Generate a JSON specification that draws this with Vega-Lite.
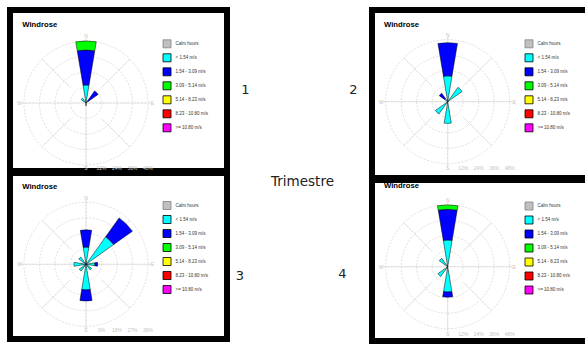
{
  "$schema": "https://vega.github.io/schema/vega-lite/v6.json",
  "padding": {"left": 7, "top": 7, "right": -8, "bottom": 1},
  "background": "white",
  "spacing": 0,
  "config": {
    "view": {"stroke": "#000", "strokeWidth": 6},
    "font": "Liberation Sans",
    "legend": {
      "orient": "none", "legendX": 152.5, "symbolType": "square", "symbolSize": 64,
      "symbolStrokeWidth": 0.8, "symbolStrokeColor": "#000", "labelFontSize": 4.5,
      "labelColor": "#333", "labelFont": "Liberation Sans", "rowPadding": 1, "padding": 0,
      "labelOffset": 4, "labelLimit": 200, "symbolOpacity": 1
    }
  },
  "datasets": {
    "winds": [
      {"q": 1, "dir": 0, "k": 2, "cls": "< 1.54 m/s", "v": 14},
      {"q": 1, "dir": 0, "k": 3, "cls": "1.54 - 3.09 m/s", "v": 27},
      {"q": 1, "dir": 0, "k": 4, "cls": "3.09 - 5.14 m/s", "v": 7},
      {"q": 1, "dir": 45, "k": 2, "cls": "< 1.54 m/s", "v": 2},
      {"q": 1, "dir": 45, "k": 3, "cls": "1.54 - 3.09 m/s", "v": 9.5},
      {"q": 1, "dir": 315, "k": 2, "cls": "< 1.54 m/s", "v": 4.5},
      {"q": 1, "dir": 180, "k": 2, "cls": "< 1.54 m/s", "v": 2},
      {"q": 2, "dir": 0, "k": 2, "cls": "< 1.54 m/s", "v": 20},
      {"q": 2, "dir": 0, "k": 3, "cls": "1.54 - 3.09 m/s", "v": 25.7},
      {"q": 2, "dir": 45, "k": 2, "cls": "< 1.54 m/s", "v": 13.7},
      {"q": 2, "dir": 315, "k": 2, "cls": "< 1.54 m/s", "v": 3},
      {"q": 2, "dir": 315, "k": 3, "cls": "1.54 - 3.09 m/s", "v": 5},
      {"q": 2, "dir": 225, "k": 2, "cls": "< 1.54 m/s", "v": 11.6},
      {"q": 2, "dir": 180, "k": 2, "cls": "< 1.54 m/s", "v": 16.8},
      {"q": 3, "dir": 0, "k": 2, "cls": "< 1.54 m/s", "v": 10},
      {"q": 3, "dir": 0, "k": 3, "cls": "1.54 - 3.09 m/s", "v": 10},
      {"q": 3, "dir": 45, "k": 2, "cls": "< 1.54 m/s", "v": 19.7},
      {"q": 3, "dir": 45, "k": 3, "cls": "1.54 - 3.09 m/s", "v": 13.4},
      {"q": 3, "dir": 180, "k": 2, "cls": "< 1.54 m/s", "v": 14.9},
      {"q": 3, "dir": 180, "k": 3, "cls": "1.54 - 3.09 m/s", "v": 6.4},
      {"q": 3, "dir": 90, "k": 2, "cls": "< 1.54 m/s", "v": 5.2},
      {"q": 3, "dir": 90, "k": 3, "cls": "1.54 - 3.09 m/s", "v": 1.6},
      {"q": 3, "dir": 270, "k": 2, "cls": "< 1.54 m/s", "v": 7},
      {"q": 3, "dir": 315, "k": 2, "cls": "< 1.54 m/s", "v": 5.2},
      {"q": 3, "dir": 225, "k": 2, "cls": "< 1.54 m/s", "v": 4.8},
      {"q": 3, "dir": 135, "k": 2, "cls": "< 1.54 m/s", "v": 4},
      {"q": 4, "dir": 0, "k": 2, "cls": "< 1.54 m/s", "v": 20.7},
      {"q": 4, "dir": 0, "k": 3, "cls": "1.54 - 3.09 m/s", "v": 23.7},
      {"q": 4, "dir": 0, "k": 4, "cls": "3.09 - 5.14 m/s", "v": 3.4},
      {"q": 4, "dir": 180, "k": 2, "cls": "< 1.54 m/s", "v": 19.6},
      {"q": 4, "dir": 180, "k": 3, "cls": "1.54 - 3.09 m/s", "v": 4},
      {"q": 4, "dir": 315, "k": 2, "cls": "< 1.54 m/s", "v": 8},
      {"q": 4, "dir": 225, "k": 2, "cls": "< 1.54 m/s", "v": 9.3}
    ],
    "rings48": [{"r": 12}, {"r": 24}, {"r": 36}, {"r": 48}],
    "rings36": [{"r": 9}, {"r": 18}, {"r": 27}, {"r": 36}],
    "axes": [{"a": 0}, {"a": 90}, {"a": 180}, {"a": 270}],
    "diag": [{"a": 45}, {"a": 135}, {"a": 225}, {"a": 315}],
    "compass": [{"lab": "N", "a": 0}, {"lab": "E", "a": 90}, {"lab": "W", "a": 270}],
    "rl48": [{"r": 0, "lab": "S"}, {"r": 12, "lab": "12%"}, {"r": 24, "lab": "24%"}, {"r": 36, "lab": "36%"}, {"r": 48, "lab": "48%"}],
    "rl36": [{"r": 0, "lab": "S"}, {"r": 9, "lab": "9%"}, {"r": 18, "lab": "18%"}, {"r": 27, "lab": "27%"}, {"r": 36, "lab": "36%"}],
    "one": [{}]
  },
  "resolve": {"scale": {"color": "independent", "radius": "independent", "theta": "independent"}, "legend": {"color": "independent"}},
  "hconcat": [
    {
      "vconcat": [
        {
          "width": 217, "height": 161,
          "layer": [
            {
              "data": {"name": "rings48"},
              "mark": {"type": "arc", "filled": false, "stroke": "#d6d6d6", "strokeWidth": 0.8, "strokeDash": [2, 1.5]},
              "encoding": {
                "x": {"datum": 0, "type": "quantitative", "scale": {"domain": [-58.839, 109.161], "nice": false, "zero": false}, "axis": null},
                "y": {"datum": 0, "type": "quantitative", "scale": {"domain": [-52.645, 72.0], "nice": false, "zero": false}, "axis": null},
                "theta": {"datum": 0, "type": "quantitative", "scale": {"domain": [0, 360]}},
                "theta2": {"datum": 360},
                "radius": {"field": "r", "type": "quantitative", "stack": null, "scale": {"type": "linear", "domain": [0, 48], "range": [0, 62], "zero": true}}
              }
            },
            {
              "data": {"name": "axes"},
              "mark": {"type": "arc", "filled": false, "stroke": "#d6d6d6", "strokeWidth": 0.8, "strokeDash": [2, 1.5]},
              "encoding": {
                "x": {"datum": 0, "type": "quantitative"}, "y": {"datum": 0, "type": "quantitative"},
                "theta": {"field": "a", "type": "quantitative", "stack": null}, "theta2": {"field": "a"},
                "radius": {"datum": 50, "type": "quantitative"}, "radius2": {"datum": 0}
              }
            },
            {
              "data": {"name": "diag"},
              "mark": {"type": "arc", "filled": false, "stroke": "#d6d6d6", "strokeWidth": 0.8, "strokeDash": [2, 1.5]},
              "encoding": {
                "x": {"datum": 0, "type": "quantitative"}, "y": {"datum": 0, "type": "quantitative"},
                "theta": {"field": "a", "type": "quantitative", "stack": null}, "theta2": {"field": "a"},
                "radius": {"datum": 48, "type": "quantitative"}, "radius2": {"datum": 17}
              }
            },
            {
              "data": {"name": "winds"},
              "transform": [
                {"filter": {"field": "q", "equal": 1}},
                {"stack": "v", "groupby": ["dir"], "sort": [{"field": "k", "order": "ascending"}], "as": ["r0", "r1"]}
              ],
              "mark": {"type": "arc", "thetaOffset": -0.166, "theta2Offset": 0.166, "stroke": "#000", "strokeWidth": 0.5},
              "encoding": {
                "x": {"datum": 0, "type": "quantitative"}, "y": {"datum": 0, "type": "quantitative"},
                "theta": {"field": "dir", "type": "quantitative", "stack": null}, "theta2": {"field": "dir"},
                "radius": {"field": "r1", "type": "quantitative", "stack": null}, "radius2": {"field": "r0"},
                "color": {"field": "cls", "type": "nominal",
                  "scale": {"domain": ["Calm hours", "< 1.54 m/s", "1.54 - 3.09 m/s", "3.09 - 5.14 m/s", "5.14 - 8.23 m/s", "8.23 - 10.80 m/s", ">= 10.80 m/s"], "range": ["#c0c0c0", "#00ffff", "#0000ff", "#00ff00", "#ffff00", "#ff0000", "#ff00ff"]},
                  "legend": {"title": null, "legendY": 29.3, "rowPadding": 1, "encode": {"symbols": {"update": {"stroke": {"signal": "datum.value === 'Calm hours' ? '#808080' : '#000000'"}, "strokeWidth": {"value": 0.8}}}}}}
              }
            },
            {
              "data": {"name": "compass"},
              "mark": {"type": "text", "fontSize": 5, "fill": "#c4c4c4", "font": "Liberation Sans", "baseline": "middle", "align": "center"},
              "encoding": {
                "x": {"datum": 0, "type": "quantitative"}, "y": {"datum": 0, "type": "quantitative"},
                "theta": {"field": "a", "type": "quantitative", "stack": null},
                "radius": {"datum": 51.5, "type": "quantitative"},
                "text": {"field": "lab"}
              }
            },
            {
              "data": {"name": "rl48"},
              "mark": {"type": "text", "fontSize": 5, "fill": "#c4c4c4", "font": "Liberation Sans", "baseline": "middle", "align": "center"},
              "encoding": {
                "x": {"field": "r", "type": "quantitative"}, "y": {"datum": -50.3, "type": "quantitative"},
                "text": {"field": "lab"}
              }
            },
            {
              "data": {"name": "one"},
              "mark": {"type": "text", "text": "Windrose", "fontSize": 7.7, "fontWeight": "bold", "font": "Liberation Sans", "fill": "#000", "align": "left", "baseline": "alphabetic"},
              "encoding": {"x": {"datum": -49.32, "type": "quantitative"}, "y": {"datum": 58.61, "type": "quantitative"}}
            }
          ]
        },
        {
          "width": 217, "height": 166,
          "layer": [
            {
              "data": {"name": "rings36"},
              "mark": {"type": "arc", "filled": false, "stroke": "#d6d6d6", "strokeWidth": 0.8, "strokeDash": [2, 1.5]},
              "encoding": {
                "x": {"datum": 0, "type": "quantitative", "scale": {"domain": [-44.129, 81.871], "nice": false, "zero": false}, "axis": null},
                "y": {"datum": 0, "type": "quantitative", "scale": {"domain": [-43.374, 53.013], "nice": false, "zero": false}, "axis": null},
                "theta": {"datum": 0, "type": "quantitative", "scale": {"domain": [0, 360]}},
                "theta2": {"datum": 360},
                "radius": {"field": "r", "type": "quantitative", "stack": null, "scale": {"type": "linear", "domain": [0, 36], "range": [0, 62], "zero": true}}
              }
            },
            {
              "data": {"name": "axes"},
              "mark": {"type": "arc", "filled": false, "stroke": "#d6d6d6", "strokeWidth": 0.8, "strokeDash": [2, 1.5]},
              "encoding": {
                "x": {"datum": 0, "type": "quantitative"}, "y": {"datum": 0, "type": "quantitative"},
                "theta": {"field": "a", "type": "quantitative", "stack": null}, "theta2": {"field": "a"},
                "radius": {"datum": 37.5, "type": "quantitative"}, "radius2": {"datum": 0}
              }
            },
            {
              "data": {"name": "diag"},
              "mark": {"type": "arc", "filled": false, "stroke": "#d6d6d6", "strokeWidth": 0.8, "strokeDash": [2, 1.5]},
              "encoding": {
                "x": {"datum": 0, "type": "quantitative"}, "y": {"datum": 0, "type": "quantitative"},
                "theta": {"field": "a", "type": "quantitative", "stack": null}, "theta2": {"field": "a"},
                "radius": {"datum": 36, "type": "quantitative"}, "radius2": {"datum": 12.75}
              }
            },
            {
              "data": {"name": "winds"},
              "transform": [
                {"filter": {"field": "q", "equal": 3}},
                {"stack": "v", "groupby": ["dir"], "sort": [{"field": "k", "order": "ascending"}], "as": ["r0", "r1"]}
              ],
              "mark": {"type": "arc", "thetaOffset": -0.166, "theta2Offset": 0.166, "stroke": "#000", "strokeWidth": 0.5},
              "encoding": {
                "x": {"datum": 0, "type": "quantitative"}, "y": {"datum": 0, "type": "quantitative"},
                "theta": {"field": "dir", "type": "quantitative", "stack": null}, "theta2": {"field": "dir"},
                "radius": {"field": "r1", "type": "quantitative", "stack": null}, "radius2": {"field": "r0"},
                "color": {"field": "cls", "type": "nominal",
                  "scale": {"domain": ["Calm hours", "< 1.54 m/s", "1.54 - 3.09 m/s", "3.09 - 5.14 m/s", "5.14 - 8.23 m/s", "8.23 - 10.80 m/s", ">= 10.80 m/s"], "range": ["#c0c0c0", "#00ffff", "#0000ff", "#00ff00", "#ffff00", "#ff0000", "#ff00ff"]},
                  "legend": {"title": null, "legendY": 28, "rowPadding": 1, "encode": {"symbols": {"update": {"stroke": {"signal": "datum.value === 'Calm hours' ? '#808080' : '#000000'"}, "strokeWidth": {"value": 0.8}}}}}}
              }
            },
            {
              "data": {"name": "compass"},
              "mark": {"type": "text", "fontSize": 5, "fill": "#c4c4c4", "font": "Liberation Sans", "baseline": "middle", "align": "center"},
              "encoding": {
                "x": {"datum": 0, "type": "quantitative"}, "y": {"datum": 0, "type": "quantitative"},
                "theta": {"field": "a", "type": "quantitative", "stack": null},
                "radius": {"datum": 38.6, "type": "quantitative"},
                "text": {"field": "lab"}
              }
            },
            {
              "data": {"name": "rl36"},
              "mark": {"type": "text", "fontSize": 5, "fill": "#c4c4c4", "font": "Liberation Sans", "baseline": "middle", "align": "center"},
              "encoding": {
                "x": {"field": "r", "type": "quantitative"}, "y": {"datum": -38.3, "type": "quantitative"},
                "text": {"field": "lab"}
              }
            },
            {
              "data": {"name": "one"},
              "mark": {"type": "text", "text": "Windrose", "fontSize": 7.7, "fontWeight": "bold", "font": "Liberation Sans", "fill": "#000", "align": "left", "baseline": "alphabetic"},
              "encoding": {"x": {"datum": -36.99, "type": "quantitative"}, "y": {"datum": 43.9, "type": "quantitative"}}
            }
          ]
        }
      ],
      "spacing": 2,
      "bounds": "flush",
      "resolve": {"scale": {"color": "independent", "radius": "independent", "theta": "independent"}, "legend": {"color": "independent"}}
    },
    {
      "width": 139, "height": 332,
      "view": {"stroke": null},
      "data": {"name": "one"},
      "layer": [
        {
          "mark": {"type": "text", "text": "1", "fontSize": 13, "font": "DejaVu Sans", "fill": "#222", "baseline": "alphabetic", "align": "center"},
          "encoding": {
            "x": {"datum": 15.5, "type": "quantitative", "scale": {"domain": [0, 139], "range": [0, 139], "nice": false, "zero": false}, "axis": null},
            "y": {"datum": 83.7, "type": "quantitative", "scale": {"domain": [0, 332], "range": [0, 332], "nice": false, "zero": false}, "axis": null}
          }
        },
        {
          "mark": {"type": "text", "text": "2", "fontSize": 13, "font": "DejaVu Sans", "fill": "#222", "baseline": "alphabetic", "align": "center"},
          "encoding": {"x": {"datum": 123.3, "type": "quantitative"}, "y": {"datum": 83.7, "type": "quantitative"}}
        },
        {
          "mark": {"type": "text", "text": "Trimestre", "fontSize": 13.5, "font": "DejaVu Sans", "fill": "#222", "baseline": "alphabetic", "align": "center"},
          "encoding": {"x": {"datum": 72.5, "type": "quantitative"}, "y": {"datum": 175.5, "type": "quantitative"}}
        },
        {
          "mark": {"type": "text", "text": "3", "fontSize": 13, "font": "DejaVu Sans", "fill": "#222", "baseline": "alphabetic", "align": "center"},
          "encoding": {"x": {"datum": 10, "type": "quantitative"}, "y": {"datum": 269.7, "type": "quantitative"}}
        },
        {
          "mark": {"type": "text", "text": "4", "fontSize": 13, "font": "DejaVu Sans", "fill": "#222", "baseline": "alphabetic", "align": "center"},
          "encoding": {"x": {"datum": 112.3, "type": "quantitative"}, "y": {"datum": 268, "type": "quantitative"}}
        }
      ]
    },
    {
      "vconcat": [
        {
          "width": 218, "height": 168,
          "layer": [
            {
              "data": {"name": "rings48"},
              "mark": {"type": "arc", "filled": false, "stroke": "#d6d6d6", "strokeWidth": 0.8, "strokeDash": [2, 1.5]},
              "encoding": {
                "x": {"datum": 0, "type": "quantitative", "scale": {"domain": [-58.606, 110.168], "nice": false, "zero": false}, "axis": null},
                "y": {"datum": 0, "type": "quantitative", "scale": {"domain": [-59.07, 70.99], "nice": false, "zero": false}, "axis": null},
                "theta": {"datum": 0, "type": "quantitative", "scale": {"domain": [0, 360]}},
                "theta2": {"datum": 360},
                "radius": {"field": "r", "type": "quantitative", "stack": null, "scale": {"type": "linear", "domain": [0, 48], "range": [0, 62], "zero": true}}
              }
            },
            {
              "data": {"name": "axes"},
              "mark": {"type": "arc", "filled": false, "stroke": "#d6d6d6", "strokeWidth": 0.8, "strokeDash": [2, 1.5]},
              "encoding": {
                "x": {"datum": 0, "type": "quantitative"}, "y": {"datum": 0, "type": "quantitative"},
                "theta": {"field": "a", "type": "quantitative", "stack": null}, "theta2": {"field": "a"},
                "radius": {"datum": 50, "type": "quantitative"}, "radius2": {"datum": 0}
              }
            },
            {
              "data": {"name": "diag"},
              "mark": {"type": "arc", "filled": false, "stroke": "#d6d6d6", "strokeWidth": 0.8, "strokeDash": [2, 1.5]},
              "encoding": {
                "x": {"datum": 0, "type": "quantitative"}, "y": {"datum": 0, "type": "quantitative"},
                "theta": {"field": "a", "type": "quantitative", "stack": null}, "theta2": {"field": "a"},
                "radius": {"datum": 48, "type": "quantitative"}, "radius2": {"datum": 17}
              }
            },
            {
              "data": {"name": "winds"},
              "transform": [
                {"filter": {"field": "q", "equal": 2}},
                {"stack": "v", "groupby": ["dir"], "sort": [{"field": "k", "order": "ascending"}], "as": ["r0", "r1"]}
              ],
              "mark": {"type": "arc", "thetaOffset": -0.166, "theta2Offset": 0.166, "stroke": "#000", "strokeWidth": 0.5},
              "encoding": {
                "x": {"datum": 0, "type": "quantitative"}, "y": {"datum": 0, "type": "quantitative"},
                "theta": {"field": "dir", "type": "quantitative", "stack": null}, "theta2": {"field": "dir"},
                "radius": {"field": "r1", "type": "quantitative", "stack": null}, "radius2": {"field": "r0"},
                "color": {"field": "cls", "type": "nominal",
                  "scale": {"domain": ["Calm hours", "< 1.54 m/s", "1.54 - 3.09 m/s", "3.09 - 5.14 m/s", "5.14 - 8.23 m/s", "8.23 - 10.80 m/s", ">= 10.80 m/s"], "range": ["#c0c0c0", "#00ffff", "#0000ff", "#00ff00", "#ffff00", "#ff0000", "#ff00ff"]},
                  "legend": {"title": null, "legendY": 29.3, "rowPadding": 1, "encode": {"symbols": {"update": {"stroke": {"signal": "datum.value === 'Calm hours' ? '#808080' : '#000000'"}, "strokeWidth": {"value": 0.8}}}}}}
              }
            },
            {
              "data": {"name": "compass"},
              "mark": {"type": "text", "fontSize": 5, "fill": "#c4c4c4", "font": "Liberation Sans", "baseline": "middle", "align": "center"},
              "encoding": {
                "x": {"datum": 0, "type": "quantitative"}, "y": {"datum": 0, "type": "quantitative"},
                "theta": {"field": "a", "type": "quantitative", "stack": null},
                "radius": {"datum": 51.5, "type": "quantitative"},
                "text": {"field": "lab"}
              }
            },
            {
              "data": {"name": "rl48"},
              "mark": {"type": "text", "fontSize": 5, "fill": "#c4c4c4", "font": "Liberation Sans", "baseline": "middle", "align": "center"},
              "encoding": {
                "x": {"field": "r", "type": "quantitative"}, "y": {"datum": -51.5, "type": "quantitative"},
                "text": {"field": "lab"}
              }
            },
            {
              "data": {"name": "one"},
              "mark": {"type": "text", "text": "Windrose", "fontSize": 7.7, "fontWeight": "bold", "font": "Liberation Sans", "fill": "#000", "align": "left", "baseline": "alphabetic"},
              "encoding": {"x": {"datum": -49.32, "type": "quantitative"}, "y": {"datum": 57.6, "type": "quantitative"}}
            }
          ]
        },
        {
          "width": 218, "height": 161,
          "layer": [
            {
              "data": {"name": "rings48"},
              "mark": {"type": "arc", "filled": false, "stroke": "#d6d6d6", "strokeWidth": 0.8, "strokeDash": [2, 1.5]},
              "encoding": {
                "x": {"datum": 0, "type": "quantitative", "scale": {"domain": [-58.606, 110.168], "nice": false, "zero": false}, "axis": null},
                "y": {"datum": 0, "type": "quantitative", "scale": {"domain": [-57.523, 67.123], "nice": false, "zero": false}, "axis": null},
                "theta": {"datum": 0, "type": "quantitative", "scale": {"domain": [0, 360]}},
                "theta2": {"datum": 360},
                "radius": {"field": "r", "type": "quantitative", "stack": null, "scale": {"type": "linear", "domain": [0, 48], "range": [0, 62], "zero": true}}
              }
            },
            {
              "data": {"name": "axes"},
              "mark": {"type": "arc", "filled": false, "stroke": "#d6d6d6", "strokeWidth": 0.8, "strokeDash": [2, 1.5]},
              "encoding": {
                "x": {"datum": 0, "type": "quantitative"}, "y": {"datum": 0, "type": "quantitative"},
                "theta": {"field": "a", "type": "quantitative", "stack": null}, "theta2": {"field": "a"},
                "radius": {"datum": 50, "type": "quantitative"}, "radius2": {"datum": 0}
              }
            },
            {
              "data": {"name": "diag"},
              "mark": {"type": "arc", "filled": false, "stroke": "#d6d6d6", "strokeWidth": 0.8, "strokeDash": [2, 1.5]},
              "encoding": {
                "x": {"datum": 0, "type": "quantitative"}, "y": {"datum": 0, "type": "quantitative"},
                "theta": {"field": "a", "type": "quantitative", "stack": null}, "theta2": {"field": "a"},
                "radius": {"datum": 48, "type": "quantitative"}, "radius2": {"datum": 17}
              }
            },
            {
              "data": {"name": "winds"},
              "transform": [
                {"filter": {"field": "q", "equal": 4}},
                {"stack": "v", "groupby": ["dir"], "sort": [{"field": "k", "order": "ascending"}], "as": ["r0", "r1"]}
              ],
              "mark": {"type": "arc", "thetaOffset": -0.166, "theta2Offset": 0.166, "stroke": "#000", "strokeWidth": 0.5},
              "encoding": {
                "x": {"datum": 0, "type": "quantitative"}, "y": {"datum": 0, "type": "quantitative"},
                "theta": {"field": "dir", "type": "quantitative", "stack": null}, "theta2": {"field": "dir"},
                "radius": {"field": "r1", "type": "quantitative", "stack": null}, "radius2": {"field": "r0"},
                "color": {"field": "cls", "type": "nominal",
                  "scale": {"domain": ["Calm hours", "< 1.54 m/s", "1.54 - 3.09 m/s", "3.09 - 5.14 m/s", "5.14 - 8.23 m/s", "8.23 - 10.80 m/s", ">= 10.80 m/s"], "range": ["#c0c0c0", "#00ffff", "#0000ff", "#00ff00", "#ffff00", "#ff0000", "#ff00ff"]},
                  "legend": {"title": null, "legendY": 21.5, "rowPadding": 1, "encode": {"symbols": {"update": {"stroke": {"signal": "datum.value === 'Calm hours' ? '#808080' : '#000000'"}, "strokeWidth": {"value": 0.8}}}}}}
              }
            },
            {
              "data": {"name": "compass"},
              "mark": {"type": "text", "fontSize": 5, "fill": "#c4c4c4", "font": "Liberation Sans", "baseline": "middle", "align": "center"},
              "encoding": {
                "x": {"datum": 0, "type": "quantitative"}, "y": {"datum": 0, "type": "quantitative"},
                "theta": {"field": "a", "type": "quantitative", "stack": null},
                "radius": {"datum": 51.5, "type": "quantitative"},
                "text": {"field": "lab"}
              }
            },
            {
              "data": {"name": "rl48"},
              "mark": {"type": "text", "fontSize": 5, "fill": "#c4c4c4", "font": "Liberation Sans", "baseline": "middle", "align": "center"},
              "encoding": {
                "x": {"field": "r", "type": "quantitative"}, "y": {"datum": -52, "type": "quantitative"},
                "text": {"field": "lab"}
              }
            },
            {
              "data": {"name": "one"},
              "mark": {"type": "text", "text": "Windrose", "fontSize": 7.7, "fontWeight": "bold", "font": "Liberation Sans", "fill": "#000", "align": "left", "baseline": "alphabetic"},
              "encoding": {"x": {"datum": -49.32, "type": "quantitative"}, "y": {"datum": 60.7, "type": "quantitative"}}
            }
          ]
        }
      ],
      "spacing": 2,
      "bounds": "flush",
      "resolve": {"scale": {"color": "independent", "radius": "independent", "theta": "independent"}, "legend": {"color": "independent"}}
    }
  ]
}
